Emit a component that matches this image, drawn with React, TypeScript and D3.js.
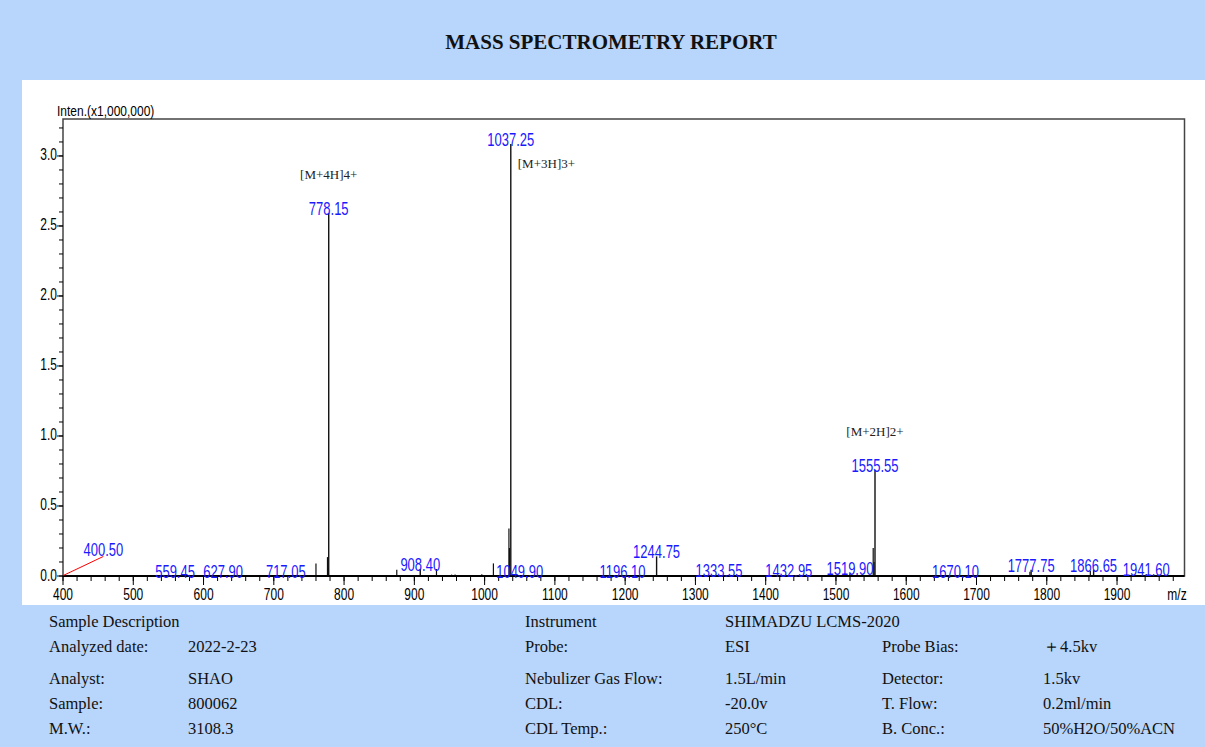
import React from "react";
import * as d3 from "d3";

// labelled peaks: m/z and intensity (x1,000,000)
const labelMz = [400.5, 559.45, 627.9, 717.05, 778.15, 908.4, 1037.25, 1049.9, 1196.1, 1244.75, 1333.55, 1432.95, 1519.9, 1555.55, 1670.1, 1777.75, 1866.65, 1941.6];
const labelInt = [0.004, 0.003, 0.003, 0.003, 2.593, 0.05, 3.086, 0.003, 0.003, 0.14, 0.006, 0.004, 0.02, 0.757, 0.003, 0.045, 0.045, 0.012];

// unlabelled small peaks
const minorMz = [760.0, 776.4, 777.2, 875.0, 931.5, 953.0, 958.0, 996.0, 1012.5, 1034.6, 1035.4, 1553.0, 1554.2, 1776.0, 1862.0];
const minorInt = [0.09, 0.135, 0.06, 0.045, 0.05, 0.01, 0.01, 0.012, 0.09, 0.34, 0.2, 0.2, 0.1, 0.03, 0.035];

// ion annotations
const ionNames = ["[M+4H]4+", "[M+3H]3+", "[M+2H]2+"];
const ionMz = [778.15, 1037.25, 1555.55];

const xTickValues = [400, 500, 600, 700, 800, 900, 1000, 1100, 1200, 1300, 1400, 1500, 1600, 1700, 1800, 1900];
const yTickValues = [0, 0.5, 1.0, 1.5, 2.0, 2.5, 3.0];

// report table
const sampleKeys = ["Analyzed date:", "Analyst:", "Sample:", "M.W.:"];
const sampleVals = ["2022-2-23", "SHAO", "800062", "3108.3"];
const instKeys = ["Probe:", "Nebulizer Gas Flow:", "CDL:", "CDL Temp.:"];
const instVals = ["ESI", "1.5L/min", "-20.0v", "250\u00B0C"];
const condKeys = ["Probe Bias:", "Detector:", "T. Flow:", "B. Conc.:"];
const condVals = ["\uFF0B4.5kv", "1.5kv", "0.2ml/min", "50%H2O/50%ACN"];

const W = 1205, H = 747;
const BG = "#b8d5fb";
const BLUE = "#1a1aff";
const SANS = "'Liberation Sans', Arial, sans-serif";
const SERIF = "'Liberation Serif', 'Times New Roman', serif";
const m = { l: 63, r: 1184.5, t: 119, b: 576 };

function SText(props: any) {
  const { x, y, sy = 1.3, size = 12, anchor = "middle", fill = "#000", children } = props;
  return (
    <text transform={`translate(${x},${y}) scale(1,${sy})`} textAnchor={anchor} fontSize={size} fontFamily={SANS} fill={fill}>
      {children}
    </text>
  );
}

export default function App() {
  const x = d3.scaleLinear().domain([400, 1996]).range([m.l, m.r]);
  const y = d3.scaleLinear().domain([0, 3.264]).range([m.b, m.t]);
  const xMinor = d3.range(400, 1996, 20);
  const yMinor = d3.range(0, 3.26, 0.1);
  const rows = [652, 684, 709, 734];

  return (
    <svg width={W} height={H} style={{ position: "absolute", left: 0, top: 0 }}>
      <rect width={W} height={H} fill={BG} />
      <text x={611} y={49} textAnchor="middle" fontFamily={SERIF} fontWeight="bold" fontSize={21} fill="#111">MASS SPECTROMETRY REPORT</text>
      <rect x={22} y={80} width={W - 22} height={525} fill="#fff" />

      {/* frame */}
      <rect x={m.l} y={m.t} width={m.r - m.l} height={m.b - m.t} fill="none" stroke="#444" strokeWidth={1.5} />

      {/* y axis */}
      {yMinor.map((v, i) => (
        <line key={"ym" + i} x1={m.l - 4} x2={m.l} y1={y(v)} y2={y(v)} stroke="#000" />
      ))}
      {yTickValues.map((v) => (
        <g key={"y" + v}>
          <line x1={m.l - 6} x2={m.l} y1={y(v)} y2={y(v)} stroke="#000" />
          <SText x={m.l - 6} y={y(v) + 4.5} anchor="end">{v.toFixed(1)}</SText>
        </g>
      ))}
      <SText x={57} y={116} anchor="start" sy={1.15} size={12}>Inten.(x1,000,000)</SText>

      {/* x axis */}
      {xMinor.map((v, i) => (
        <line key={"xm" + i} x1={x(v)} x2={x(v)} y1={m.b} y2={m.b + 5} stroke="#000" />
      ))}
      {xTickValues.map((v) => (
        <g key={"x" + v}>
          <line x1={x(v)} x2={x(v)} y1={m.b} y2={m.b + 9} stroke="#000" />
          <SText x={x(v)} y={600}>{v}</SText>
        </g>
      ))}
      <SText x={1177} y={600}>m/z</SText>

      {/* peaks */}
      {minorMz.map((v, i) => (
        <line key={"mp" + i} x1={x(v)} x2={x(v)} y1={m.b} y2={y(minorInt[i])} stroke="#111" strokeWidth={1.2} />
      ))}
      {labelMz.map((v, i) => (
        <line key={"lp" + i} x1={x(v)} x2={x(v)} y1={m.b} y2={y(labelInt[i])} stroke="#111" strokeWidth={1.4} />
      ))}
      <line x1={m.l} x2={m.r} y1={m.b} y2={m.b} stroke="#000" strokeWidth={2} />

      {/* peak labels */}
      {labelMz.map((v, i) => {
        const px = x(v), py = y(labelInt[i]);
        const edge = px - m.l < 20;
        const lx = edge ? px + 40 : px, ly = edge ? py - 19 : py + 2;
        return (
          <g key={"lb" + i}>
            {edge && <line x1={px} y1={py} x2={lx} y2={ly} stroke="#ff0000" strokeWidth={1} />}
            <SText x={lx} y={ly} size={13} sy={1.35} fill={BLUE}>{v.toFixed(2)}</SText>
          </g>
        );
      })}

      {/* ion annotations */}
      {ionMz.map((v, i) => {
        const k = labelMz.indexOf(v);
        const py = y(labelInt[k]);
        const right = py - 40 < m.t;
        return right ? (
          <text key={"ion" + i} x={x(v) + 7} y={py + 24} fontFamily={SERIF} fontSize={13} fill="#222">{ionNames[i]}</text>
        ) : (
          <text key={"ion" + i} x={x(v)} y={py - 34} textAnchor="middle" fontFamily={SERIF} fontSize={13} fill="#222">{ionNames[i]}</text>
        );
      })}

      {/* report table */}
      <g fontFamily={SERIF} fontSize={16.5} fill="#111">
        <text x={49} y={627}>Sample Description</text>
        <text x={525} y={627}>Instrument</text>
        <text x={725} y={627}>SHIMADZU LCMS-2020</text>
        {rows.map((ry, i) => (
          <g key={"r" + i}>
            <text x={49} y={ry}>{sampleKeys[i]}</text>
            <text x={188} y={ry}>{sampleVals[i]}</text>
            <text x={525} y={ry}>{instKeys[i]}</text>
            <text x={725} y={ry}>{instVals[i]}</text>
            <text x={882} y={ry}>{condKeys[i]}</text>
            <text x={1043} y={ry}>{condVals[i]}</text>
          </g>
        ))}
      </g>
    </svg>
  );
}
